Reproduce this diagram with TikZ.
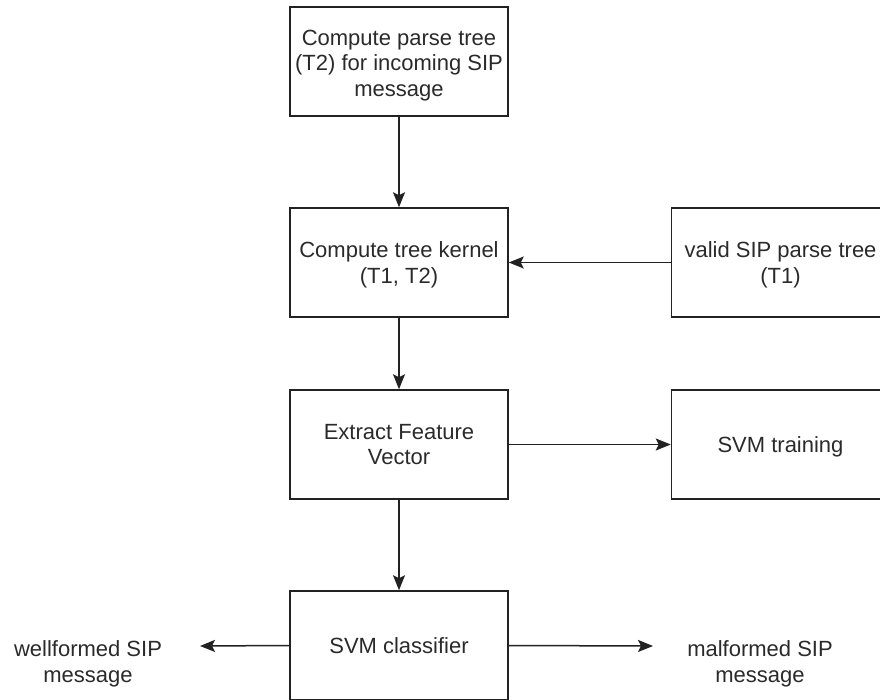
\documentclass[tikz,border=0pt]{standalone}
\usepackage{fontspec}
\setmainfont{Liberation Sans}
\usetikzlibrary{arrows.meta}
\definecolor{linec}{HTML}{222222}
\definecolor{txtc}{HTML}{2A2A2A}
\begin{document}
\begin{tikzpicture}[x=1pt,y=-1pt,
  box/.style={draw=linec,line width=1.5pt,minimum width=218pt,minimum height=109pt,inner sep=0pt,align=center,font=\fontsize{22}{25.8}\selectfont,text=txtc},
  lbl/.style={align=center,font=\fontsize{22}{25.8}\selectfont,text=txtc,inner sep=0pt},
  conn/.style={draw=linec,line width=1.5pt,-{Stealth[length=15pt,width=12pt,inset=3pt]}}]
\useasboundingbox (0,0) rectangle (880,700);
\clip (0,0) rectangle (880,700);
\node[box] (b1) at (399,61.5) {};
\node[lbl] (b1t) at (399,65.5) {Compute parse tree\\(T2) for incoming SIP\\message};
\node[box] (b2) at (399,262.5) {};
\node[lbl] (b2t) at (399,264.5) {Compute tree kernel\\(T1, T2)};
\node[box] (b3) at (780.5,262.5) {};
\node[lbl] (b3t) at (780.5,264.5) {valid SIP parse tree\\(T1)};
\node[box] (b4) at (399,444.5) {Extract Feature\\Vector};
\node[box] (b5) at (780.5,444.5) {};
\node[lbl] (b5t) at (780.5,446.5) {SVM training};
\node[box] (b6) at (399,645.5) {SVM classifier};
\node[lbl] (wf) at (88,664) {wellformed SIP\\message};
\node[lbl] (mf) at (760,664) {malformed SIP\\message};
\coordinate (wl) at (200,646);
\coordinate (ml) at (653,646);
\draw[conn] (b1) -- (b2);
\draw[conn] (b2) -- (b4);
\draw[conn] (b4) -- (b6);
\draw[conn] (b3) -- (b2);
\draw[conn] (b4) -- (b5);
\draw[conn] (b6.west) -- (wl);
\draw[conn] (b6.east) -- (ml);
\end{tikzpicture}
\end{document}
